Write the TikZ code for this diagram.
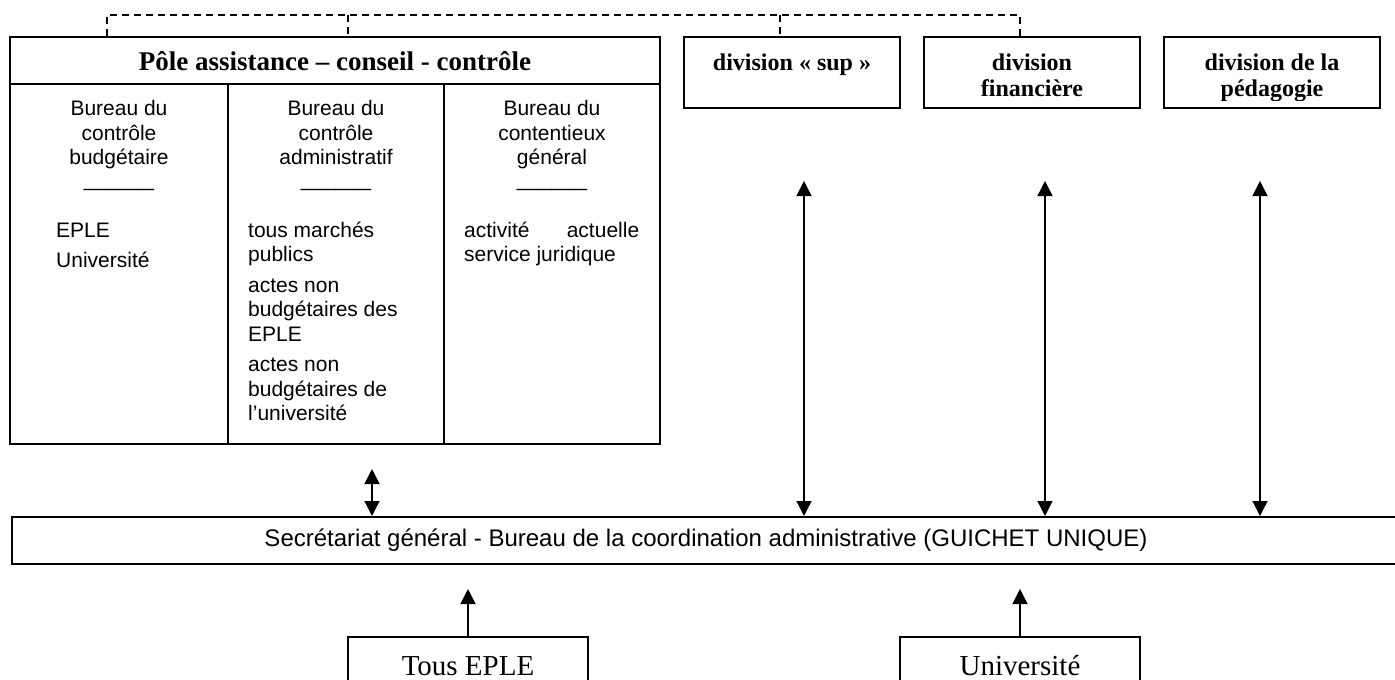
\documentclass[tikz,border=0pt]{standalone}
\usepackage{fontspec}
\setmainfont{Liberation Serif}
\newfontfamily\arialf{Liberation Sans}
\usetikzlibrary{arrows.meta}
\begin{document}
\begin{tikzpicture}[x=1pt,y=-1pt,
  box/.style={draw,line width=2pt,inner sep=0pt},
  inner/.style={line width=1.5pt},
  body/.style={font=\arialf\fontsize{21}{24.5}\selectfont,inner sep=0pt,anchor=base},
  bodyl/.style={body,anchor=base west},
  divtxt/.style={font=\bfseries\fontsize{24}{26}\selectfont,inner sep=0pt,anchor=base},
  arr/.style={line width=1.3pt,{Triangle[length=15pt,width=15pt]}-{Triangle[length=15pt,width=15pt]}},
  uparr/.style={line width=1.3pt,-{Triangle[length=15pt,width=15pt]}},
  dashline/.style={line width=1.3pt,dash pattern=on 7pt off 5pt},
  lowbox/.style={box,minimum width=240pt,minimum height=57pt,text height=19pt,text depth=0pt,font=\fontsize{29}{32}\selectfont}]
\useasboundingbox (0,0) rectangle (1395,680);

% Pole box
\node[box,minimum width=650pt,minimum height=407pt] (pole) at (335,240.5) {};
\node[font=\bfseries\fontsize{27}{30}\selectfont,inner sep=0pt] (poletitle) at (335,61) {Pôle assistance – conseil - contrôle};
\coordinate (r1) at (0,84);
\coordinate (c1) at (228,0);
\coordinate (c2) at (444,0);
\draw[inner] (pole.west |- r1) -- (pole.east |- r1);
\draw[inner] (c1 |- r1) -- (c1 |- pole.south);
\draw[inner] (c2 |- r1) -- (c2 |- pole.south);

% left column
\node[body] (h11) at (119,115.5) {Bureau du};
\node[body] (h12) at (119,140) {contrôle};
\node[body] (h13) at (119,164.5) {budgétaire};
\node[body] (h14) at (119,186) {\_\_\_\_\_\_};
\node[bodyl] (l1) at (56,237) {EPLE};
\node[bodyl] (l2) at (56,267.5) {Université};

% middle column
\node[body] (h21) at (336,115.5) {Bureau du};
\node[body] (h22) at (336,140) {contrôle};
\node[body] (h23) at (336,164.5) {administratif};
\node[body] (h24) at (336,186) {\_\_\_\_\_\_};
\node[bodyl] (m1) at (248,237) {tous marchés};
\node[bodyl] (m2) at (248,261.5) {publics};
\node[bodyl] (m3) at (248,292) {actes non};
\node[bodyl] (m4) at (248,316.5) {budgétaires des};
\node[bodyl] (m5) at (248,341) {EPLE};
\node[bodyl] (m6) at (248,371.5) {actes non};
\node[bodyl] (m7) at (248,396) {budgétaires de};
\node[bodyl] (m8) at (248,420.5) {l’université};

% right column
\node[body] (h31) at (552,115.5) {Bureau du};
\node[body] (h32) at (552,140) {contentieux};
\node[body] (h33) at (552,164.5) {général};
\node[body] (h34) at (552,186) {\_\_\_\_\_\_};
\node[bodyl] (q1) at (464,237) {\makebox[175pt][s]{activité actuelle}};
\node[bodyl] (q2) at (464,261.5) {service juridique};

% division boxes
\node[box,minimum width=216pt,minimum height=71pt] (sup) at (792,72.5) {};
\node[box,minimum width=216pt,minimum height=71pt] (fin) at (1032,72.5) {};
\node[box,minimum width=216pt,minimum height=71pt] (ped) at (1272,72.5) {};
\node[divtxt] (suptxt) at (792,70) {division « sup »};
\begin{scope}
\clip (fin.north west) rectangle (1380,100);
\node[divtxt] (fintxt1) at (1032,70) {division};
\node[divtxt] (fintxt2) at (1032,96) {financière};
\node[divtxt] (pedtxt1) at (1272,70) {division de la};
\node[divtxt] (pedtxt2) at (1272,96) {pédagogie};
\end{scope}

% dashed links
\coordinate (d1) at (107,15);
\coordinate (d2) at (348,15);
\coordinate (d3) at (780,15);
\coordinate (d4) at (1020,15);
\draw[dashline] (d1 |- pole.north) -- (d1) -- (d4) -- (d4 |- fin.north);
\draw[dashline] (d2) -- (d2 |- pole.north);
\draw[dashline] (d3) -- (d3 |- sup.north);

% secretariat
\node[box,minimum width=1388pt,minimum height=47pt,font=\arialf\fontsize{24}{27}\selectfont] (sg) at (706,540.5) {Secrétariat général - Bureau de la coordination administrative (GUICHET UNIQUE)};

% arrows
\coordinate (a0) at (372,469);
\coordinate (a1) at (804,181);
\coordinate (a2) at (1045,181);
\coordinate (a3) at (1260,181);
\draw[arr] (a0) -- (a0 |- sg.north);
\draw[arr] (a1) -- (a1 |- sg.north);
\draw[arr] (a2) -- (a2 |- sg.north);
\draw[arr] (a3) -- (a3 |- sg.north);

% bottom boxes
\node[lowbox] (eple) at (468,665.5) {Tous EPLE};
\node[lowbox] (univ) at (1020,665.5) {Université};
\coordinate (u1) at (468,589);
\coordinate (u2) at (1020,589);
\draw[uparr] (eple.north) -- (u1);
\draw[uparr] (univ.north) -- (u2);
\end{tikzpicture}
\end{document}
